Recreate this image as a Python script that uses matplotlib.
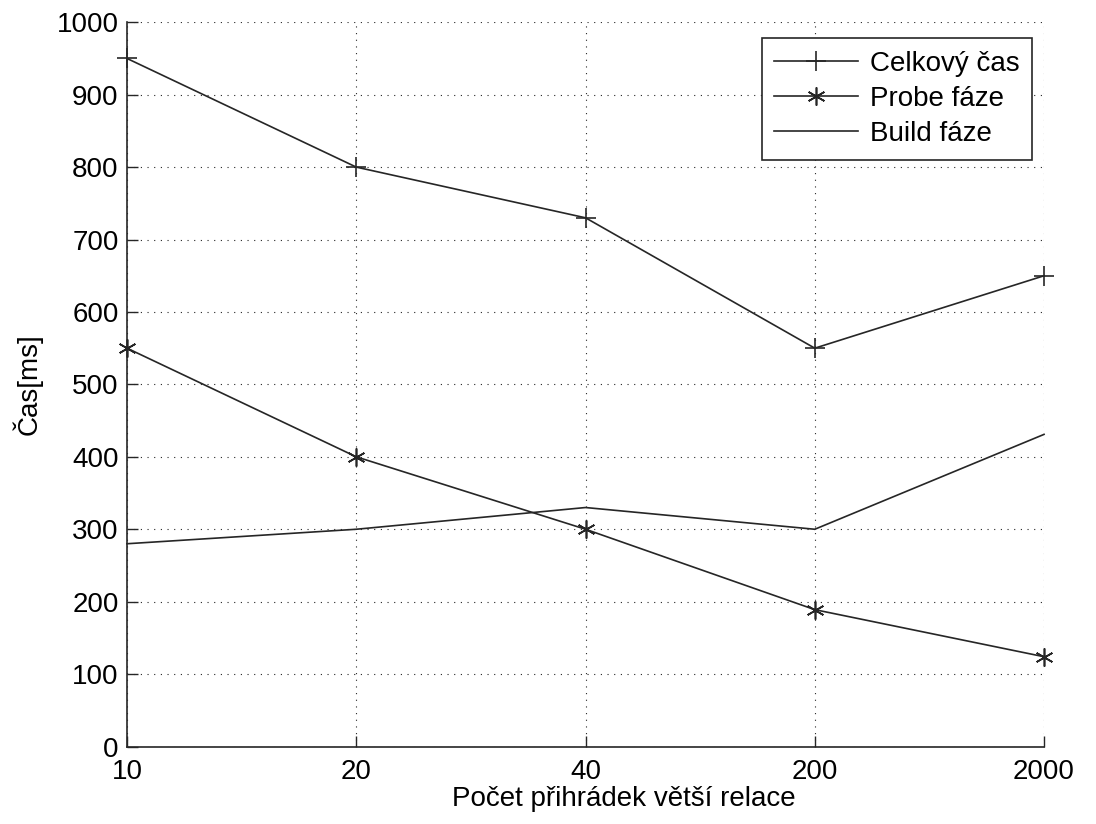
import numpy as np
import matplotlib.pyplot as plt

plt.rc('font', family='Liberation Sans')

bins = ['10', '20', '40', '200', '2000']
total = [950, 800, 730, 550, 650]
probe = [550, 400, 300, 189, 124]
build = [280, 300, 330, 300, 431]

col = '#262626'
x = np.arange(len(bins))

fig = plt.figure(figsize=(10.96, 8.24), dpi=100)
ax = fig.add_axes([0.1159, 0.094, 0.8367, 0.879])

ax.plot(x, total, color=col, lw=1.2, marker='+', ms=14, mew=1.2,
        label='Celkový čas', clip_on=False)
ax.plot(x, probe, color=col, lw=1.2, marker=(6, 2, 0), ms=13, mew=1.2,
        label='Probe fáze', clip_on=False)
ax.plot(x, build, color=col, lw=1.2, label='Build fáze', clip_on=False)

ax.set_xlim(0, 4)
ax.set_ylim(0, 1000)
ax.set_xticks(x)
ax.set_xticklabels(bins)
ax.set_yticks(np.arange(0, 1001, 100))

ax.grid(True, linestyle=(0, (1, 5)), color=col, lw=0.8)
ax.spines['top'].set_visible(False)
ax.spines['right'].set_visible(False)
for s in ('left', 'bottom'):
    ax.spines[s].set_color(col)
    ax.spines[s].set_linewidth(1.2)
ax.tick_params(direction='in', length=8, width=1, colors=col, labelsize=20)
ax.tick_params(axis='x', pad=9)
ax.tick_params(axis='y', pad=6)
for t in ax.get_xticklabels() + ax.get_yticklabels():
    t.set_color('black')

ax.set_xlabel('Počet přihrádek větší relace', fontsize=20)
ax.xaxis.set_label_coords(0.542, -0.055)
ax.set_ylabel('Čas[ms]', fontsize=20, labelpad=10)

leg = ax.legend(loc='upper right', bbox_to_anchor=(0.987, 0.978), borderaxespad=0,
                fontsize=20, fancybox=False, framealpha=1, edgecolor=col,
                handlelength=3.0, borderpad=0.45, labelspacing=0.33,
                handletextpad=0.45)
leg.get_frame().set_linewidth(1.2)

fig.savefig('out.png', dpi=100)
